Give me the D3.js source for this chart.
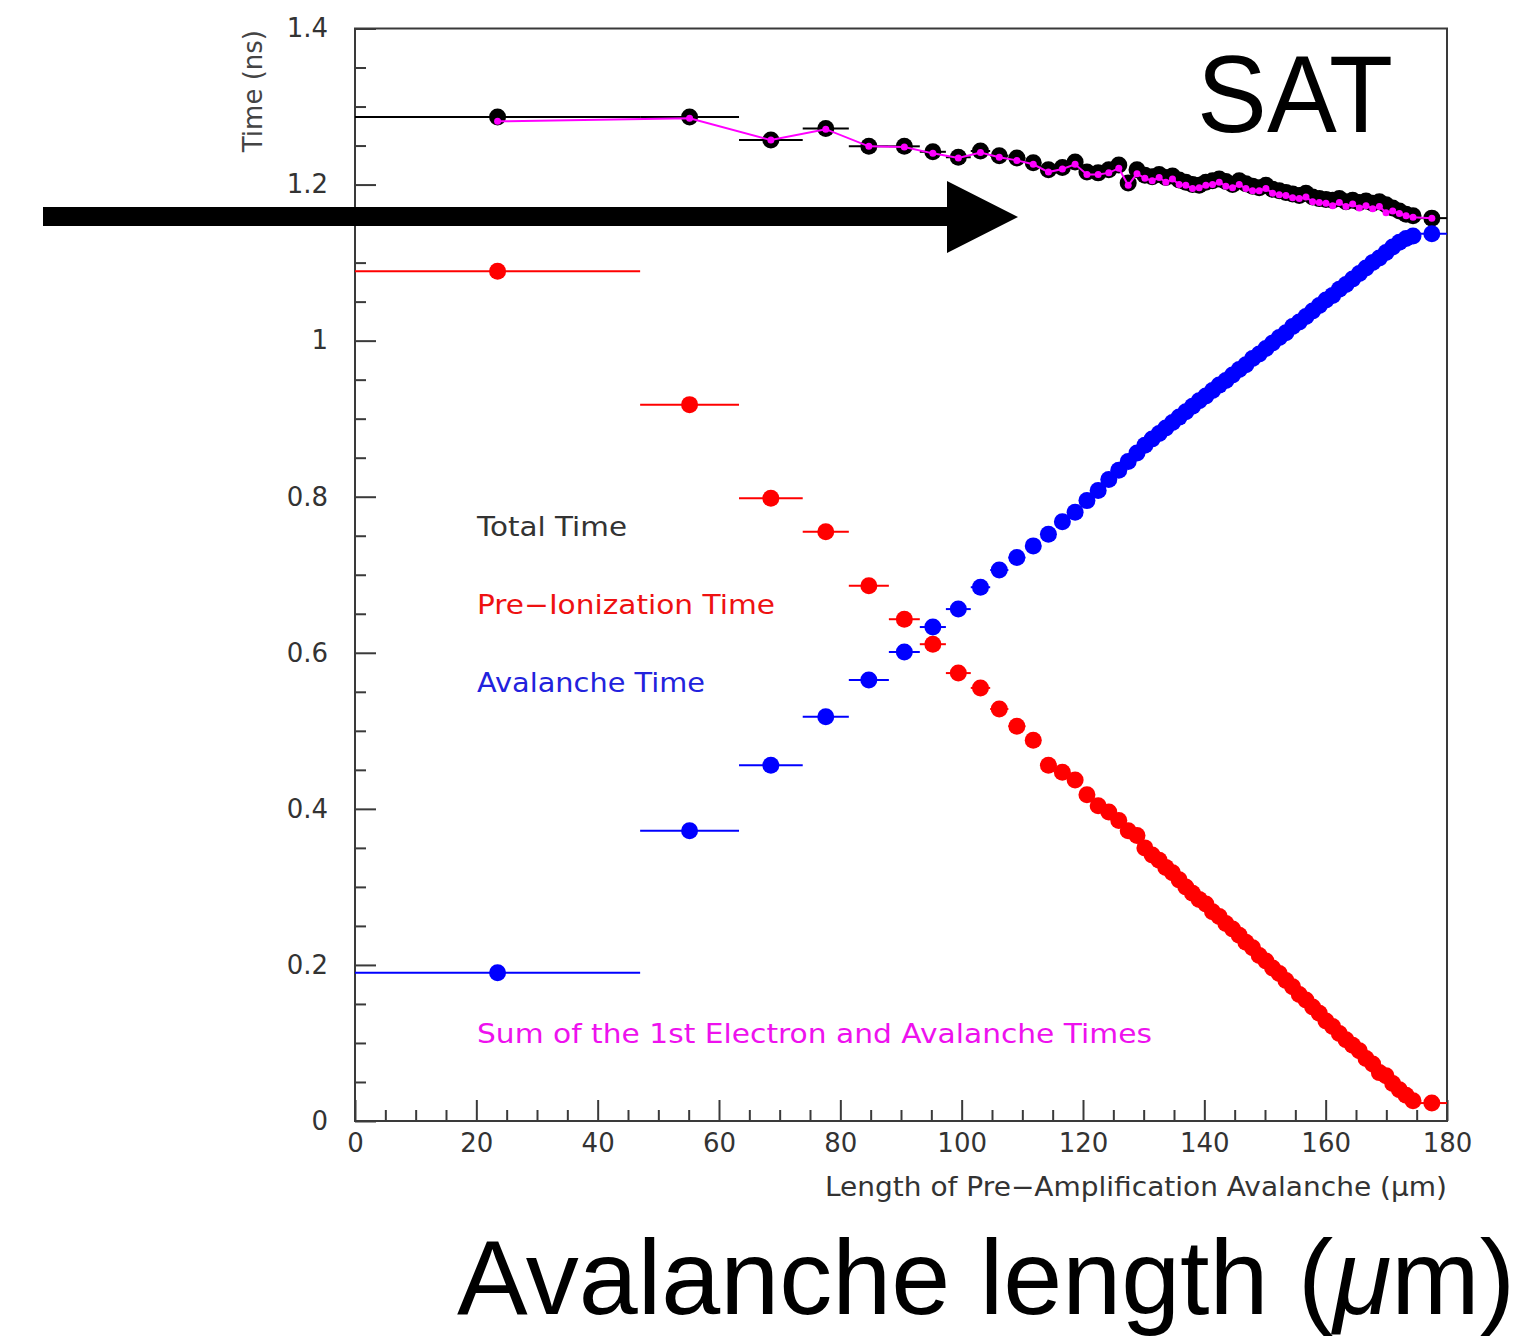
<!DOCTYPE html>
<html>
<head>
<meta charset="utf-8">
<script src="https://cdn.jsdelivr.net/npm/d3@7"></script>
<style>
  html, body { margin: 0; padding: 0; background: #ffffff; }
  svg { display: block; }
</style>
</head>
<body>
<svg id="chart" width="1527" height="1336"></svg>
<script>
// Bin edges of the pre-amplification avalanche length (µm); each point sits at its bin centre
const binEdges = [
  0, 47.0, 63.3, 73.8, 81.4, 88.0, 93.1, 97.4,
  101.5, 104.7, 107.7, 110.5, 113.1, 115.5, 117.7, 119.7, 121.6, 123.4, 125.1, 126.7, 128.2, 129.6,
  130.8, 132.0, 133.1, 134.2, 135.3, 136.4, 137.5, 138.6, 139.7, 140.8, 141.9, 143.0, 144.1, 145.2,
  146.3, 147.4, 148.5, 149.6, 150.7, 151.8, 152.9, 154.0, 155.1, 156.2, 157.3, 158.4, 159.5, 160.6,
  161.7, 162.8, 163.9, 165.0, 166.1, 167.2, 168.3, 169.4, 170.5, 171.6, 172.7, 173.8, 175.0, 180.0
];

// Total time (ns)
const totalTime = [
  1.2865, 1.2865, 1.257, 1.272, 1.249, 1.249, 1.242,
  1.235, 1.243, 1.237, 1.234, 1.228, 1.219, 1.222, 1.229, 1.216, 1.215, 1.219, 1.225, 1.202, 1.219,
  1.212, 1.210, 1.213, 1.209, 1.211, 1.206, 1.203, 1.200, 1.199, 1.203, 1.205, 1.207, 1.204, 1.200,
  1.205, 1.201, 1.198, 1.196, 1.199, 1.194, 1.192, 1.190, 1.188, 1.186, 1.189, 1.184, 1.182, 1.181,
  1.180, 1.182, 1.178, 1.180, 1.177, 1.179, 1.176, 1.178, 1.174, 1.170, 1.166, 1.162, 1.160, 1.157
];

// Sum of the 1st electron and avalanche times (ns)
const sumTime = [
  1.281, 1.285, 1.257, 1.271, 1.249, 1.248, 1.240,
  1.234, 1.241, 1.235, 1.231, 1.226, 1.216, 1.220, 1.226, 1.213, 1.213, 1.215, 1.221, 1.199, 1.214,
  1.208, 1.205, 1.209, 1.203, 1.207, 1.200, 1.199, 1.195, 1.196, 1.199, 1.200, 1.203, 1.198, 1.196,
  1.200, 1.195, 1.192, 1.192, 1.195, 1.189, 1.187, 1.186, 1.183, 1.182, 1.184, 1.178, 1.177, 1.176,
  1.173, 1.177, 1.172, 1.175, 1.170, 1.173, 1.169, 1.172, 1.164, 1.166, 1.163, 1.160, 1.158, 1.157
];

// Pre-ionization time (ns)
const preIonTime = [
  1.089, 0.918, 0.798, 0.755, 0.686, 0.643, 0.611,
  0.574, 0.555, 0.528, 0.506, 0.488, 0.456, 0.447, 0.437, 0.418, 0.404, 0.396, 0.385, 0.372, 0.366,
  0.350, 0.341, 0.334, 0.325, 0.318, 0.309, 0.300, 0.292, 0.284, 0.278, 0.268, 0.262, 0.253, 0.246,
  0.238, 0.229, 0.222, 0.212, 0.205, 0.196, 0.189, 0.180, 0.172, 0.162, 0.155, 0.146, 0.138, 0.128,
  0.121, 0.112, 0.104, 0.097, 0.090, 0.080, 0.073, 0.062, 0.058, 0.048, 0.040, 0.033, 0.026, 0.023
];

// Avalanche time (ns)
const avalancheTime = [
  0.190, 0.372, 0.456, 0.518, 0.565, 0.601, 0.633,
  0.656, 0.684, 0.706, 0.722, 0.737, 0.752, 0.768, 0.780, 0.795, 0.808, 0.822, 0.834, 0.845, 0.856,
  0.866, 0.874, 0.881, 0.888, 0.895, 0.902, 0.909, 0.916, 0.923, 0.929, 0.936, 0.943, 0.949, 0.956,
  0.963, 0.969, 0.977, 0.983, 0.990, 0.997, 1.004, 1.010, 1.018, 1.024, 1.031, 1.038, 1.045, 1.052,
  1.058, 1.066, 1.072, 1.079, 1.086, 1.093, 1.100, 1.106, 1.113, 1.120, 1.126, 1.131, 1.134, 1.137
];

// Axis ticks
const xMajorTicks = [0, 20, 40, 60, 80, 100, 120, 140, 160, 180];
const yMajorTicks = [0, 0.2, 0.4, 0.6, 0.8, 1.0, 1.2, 1.4];
const yTickLabels = ["0", "0.2", "0.4", "0.6", "0.8", "1", "1.2", "1.4"];

const svg = d3.select("#chart");
svg.append("rect").attr("width", 1527).attr("height", 1336).attr("fill", "#ffffff");

const plot = { left: 355, right: 1447, top: 28.5, bottom: 1121 };
const x = d3.scaleLinear().domain([0, 180]).range([plot.left, plot.right]);
const y = d3.scaleLinear().domain([0, 1.4]).range([plot.bottom, plot.top]);

const bins = binEdges.slice(0, -1).map((lo, i) => ({
  lo, hi: binEdges[i + 1], c: (lo + binEdges[i + 1]) / 2
}));

const axisColor = "#3a3a3a";
const tickFont = "'DejaVu Sans', 'Liberation Sans', sans-serif";

// x axis: major and minor ticks pointing into the frame
const xMinor = d3.range(0, 181, 5).filter(v => v % 20 !== 0);
const xAxisG = svg.append("g").attr("transform", `translate(0,${plot.bottom})`);
xAxisG.call(d3.axisBottom(x).tickValues(xMajorTicks).tickSizeInner(-21).tickSizeOuter(0)
  .tickPadding(13).tickFormat(d3.format("d")));
xAxisG.append("g").call(d3.axisBottom(x).tickValues(xMinor).tickSizeInner(-11).tickSizeOuter(0).tickFormat(""));

// y axis
const yMinor = d3.range(0, 29).map(i => i * 0.05).filter((v, i) => i % 4 !== 0);
const yAxisG = svg.append("g").attr("transform", `translate(${plot.left},0)`);
yAxisG.call(d3.axisLeft(y).tickValues(yMajorTicks).tickSizeInner(-21).tickSizeOuter(0)
  .tickPadding(27).tickFormat((d, i) => yTickLabels[i]));
yAxisG.append("g").call(d3.axisLeft(y).tickValues(yMinor).tickSizeInner(-11).tickSizeOuter(0).tickFormat(""));

svg.selectAll(".domain").remove();
svg.selectAll(".tick line").attr("stroke", axisColor).attr("stroke-width", 2);
svg.selectAll(".tick text").attr("font-family", tickFont).attr("font-size", 26).attr("fill", "#333");

// frame
svg.append("rect")
  .attr("x", plot.left).attr("y", plot.top)
  .attr("width", plot.right - plot.left).attr("height", plot.bottom - plot.top)
  .attr("fill", "none").attr("stroke", axisColor).attr("stroke-width", 2);

// axis titles
svg.append("text")
  .attr("x", plot.right).attr("y", 1196)
  .attr("text-anchor", "end")
  .attr("font-family", tickFont).attr("font-size", 26).attr("fill", "#333")
  .attr("textLength", 622).attr("lengthAdjust", "spacingAndGlyphs")
  .text("Length of Pre\u2212Amplification Avalanche (\u03bcm)");

svg.append("text")
  .attr("transform", `translate(262,30) rotate(-90)`)
  .attr("text-anchor", "end")
  .attr("font-family", tickFont).attr("font-size", 26).attr("fill", "#444")
  .text("Time (ns)");

// series drawing helper: horizontal bin bars plus round markers
function drawSeries(values, color, r) {
  const g = svg.append("g");
  g.selectAll("line").data(bins).join("line")
    .attr("x1", d => x(d.lo)).attr("x2", d => x(d.hi))
    .attr("y1", (d, i) => y(values[i])).attr("y2", (d, i) => y(values[i]))
    .attr("stroke", color).attr("stroke-width", 2);
  g.selectAll("circle").data(bins).join("circle")
    .attr("cx", d => x(d.c)).attr("cy", (d, i) => y(values[i]))
    .attr("r", r).attr("fill", color);
  return g;
}

drawSeries(totalTime, "#000000", 8.5);

// sum of the 1st electron and avalanche times: magenta polyline with small markers
const line = d3.line().x(d => x(d.c)).y(d => y(d.v));
const sumPts = bins.map((b, i) => ({ c: b.c, v: sumTime[i] }));
svg.append("path").datum(sumPts)
  .attr("d", line).attr("fill", "none").attr("stroke", "#ff00ff").attr("stroke-width", 2);
svg.append("g").selectAll("circle").data(sumPts).join("circle")
  .attr("cx", d => x(d.c)).attr("cy", d => y(d.v)).attr("r", 3.5).attr("fill", "#ff00ff");

drawSeries(preIonTime, "#ff0000", 8.5);
drawSeries(avalancheTime, "#0000ff", 8.5);

// legend texts
const legend = [
  { text: "Total Time", color: "#333333", yPos: 536, w: 150 },
  { text: "Pre\u2212Ionization Time", color: "#ee1111", yPos: 614, w: 298 },
  { text: "Avalanche Time", color: "#2222dd", yPos: 692, w: 228 },
  { text: "Sum of the 1st Electron and Avalanche Times", color: "#ee11ee", yPos: 1043, w: 675 }
];
svg.append("g").selectAll("text").data(legend).join("text")
  .attr("x", 477).attr("y", d => d.yPos)
  .attr("font-family", tickFont).attr("font-size", 27)
  .attr("textLength", d => d.w).attr("lengthAdjust", "spacingAndGlyphs")
  .attr("fill", d => d.color)
  .text(d => d.text);

// annotation arrow
svg.append("polygon")
  .attr("points", [[43, 207], [947, 207], [947, 181], [1018, 217], [947, 253], [947, 226], [43, 226]].map(p => p.join(",")).join(" "))
  .attr("fill", "#000000");

// annotation labels
const bigFont = "'Liberation Sans', Arial, Helvetica, sans-serif";
svg.append("text")
  .attr("x", 1197).attr("y", 132)
  .attr("font-family", bigFont).attr("font-size", 110)
  .attr("textLength", 196).attr("lengthAdjust", "spacingAndGlyphs")
  .attr("fill", "#000").text("SAT");

const bottom = svg.append("text")
  .attr("x", 457).attr("y", 1314)
  .attr("font-family", bigFont).attr("font-size", 106)
  .attr("textLength", 1058).attr("lengthAdjust", "spacingAndGlyphs")
  .attr("fill", "#000");
bottom.append("tspan").text("Avalanche length (");
bottom.append("tspan").attr("font-style", "italic").text("\u03bc");
bottom.append("tspan").text("m)");
</script>
</body>
</html>
